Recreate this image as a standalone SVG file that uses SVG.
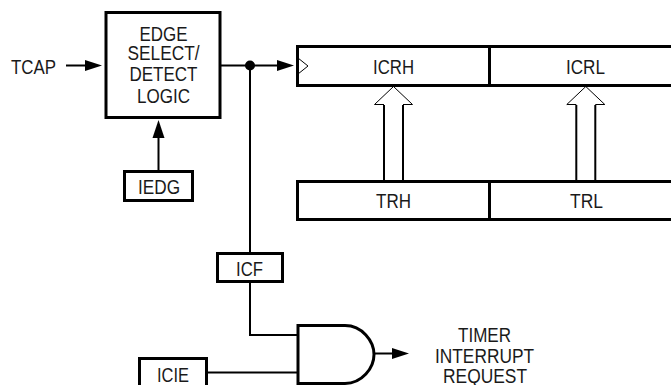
<svg xmlns="http://www.w3.org/2000/svg" width="671" height="385" viewBox="0 0 671 385">
<style>
.b{fill:#fff;stroke:#000;stroke-width:3}
.d{fill:none;stroke:#000;stroke-width:3}
.l{fill:none;stroke:#000;stroke-width:2}
.h{fill:#000;stroke:none}
.o{fill:none;stroke:#000;stroke-width:1}
text{font-family:"Liberation Sans",Arial,sans-serif;font-size:20.500px;fill:#1a1a1a;text-anchor:middle}
</style>
<rect width="671" height="385" fill="#fff"/>
<g id="connectors">
<path class="l" d="M66 65.500H88"/><path class="h" d="M85 60L102 65.500L85 71Z"/>
<path class="l" d="M220 65.500H280"/><path class="h" d="M277 60L294 65.500L277 71Z"/>
<circle cx="250" cy="65.500" r="5"/>
<path class="l" d="M250 65.500V254"/>
<path class="l" d="M158.500 172V135"/><path class="h" d="M152.500 138L158.500 120L164.500 138Z"/>
<path class="l" d="M250 282V335H298"/>
<path class="l" d="M207 372.500H298"/>
<path class="l" d="M374 353.500H395"/><path class="h" d="M392 348L409 353.500L392 359Z"/>
</g>
<g id="edge-logic"><rect class="b" x="106" y="12.500" width="114" height="105"/>
<text x="163.500" y="40.500" textLength="48" lengthAdjust="spacingAndGlyphs">EDGE</text>
<text x="163.500" y="60" textLength="72" lengthAdjust="spacingAndGlyphs">SELECT/</text>
<text x="163.500" y="81" textLength="68" lengthAdjust="spacingAndGlyphs">DETECT</text>
<text x="163.500" y="102.500" textLength="53" lengthAdjust="spacingAndGlyphs">LOGIC</text></g>
<g id="tcap"><text x="33.500" y="74" textLength="45" lengthAdjust="spacingAndGlyphs">TCAP</text></g>
<g id="iedg"><rect class="b" x="124.500" y="171.500" width="68" height="29"/><text x="159" y="194" textLength="42" lengthAdjust="spacingAndGlyphs">IEDG</text></g>
<g id="icr"><path class="b" d="M671 46.500H297.500V85.500H671"/><path class="d" d="M489.500 46.500V85.500"/>
<path class="o" d="M298 58L308 66L298 74"/>
<text x="393.500" y="74" textLength="41" lengthAdjust="spacingAndGlyphs">ICRH</text>
<text x="585.500" y="74" textLength="39" lengthAdjust="spacingAndGlyphs">ICRL</text></g>
<g id="tr"><path class="b" d="M671 181.500H297.500V219.500H671"/><path class="d" d="M489.500 181.500V219.500"/>
<text x="393.500" y="208" textLength="35" lengthAdjust="spacingAndGlyphs">TRH</text>
<text x="586.500" y="208" textLength="33" lengthAdjust="spacingAndGlyphs">TRL</text></g>
<g id="bus-high"><path class="l" d="M384 181V105M403 181V105"/><path class="o" d="M384 104.500H374.500L393.500 86.500L412.500 104.500H403"/></g>
<g id="bus-low"><path class="l" d="M576.300 181V105M595.300 181V105"/><path class="o" d="M576.300 104.500H566.800L585.800 86.500L604.800 104.500H595.300"/></g>
<g id="icf"><rect class="b" x="217.500" y="253.500" width="65" height="28"/><text x="249.500" y="275.500" textLength="27" lengthAdjust="spacingAndGlyphs">ICF</text></g>
<g id="icie"><rect class="b" x="139.500" y="358.500" width="67" height="30"/><text x="173" y="382" textLength="32" lengthAdjust="spacingAndGlyphs">ICIE</text></g>
<g id="and-gate"><path d="M298 325.500V383.500H345C362 383.500 374 368 374 354.500C374 341 362 325.500 345 325.500Z" fill="#fff" stroke="#000" stroke-width="3"/></g>
<g id="timer-label">
<text x="484.500" y="341.500" textLength="53" lengthAdjust="spacingAndGlyphs">TIMER</text>
<text x="484.500" y="362.500" textLength="99" lengthAdjust="spacingAndGlyphs">INTERRUPT</text>
<text x="485" y="383" textLength="84" lengthAdjust="spacingAndGlyphs">REQUEST</text></g>
</svg>
